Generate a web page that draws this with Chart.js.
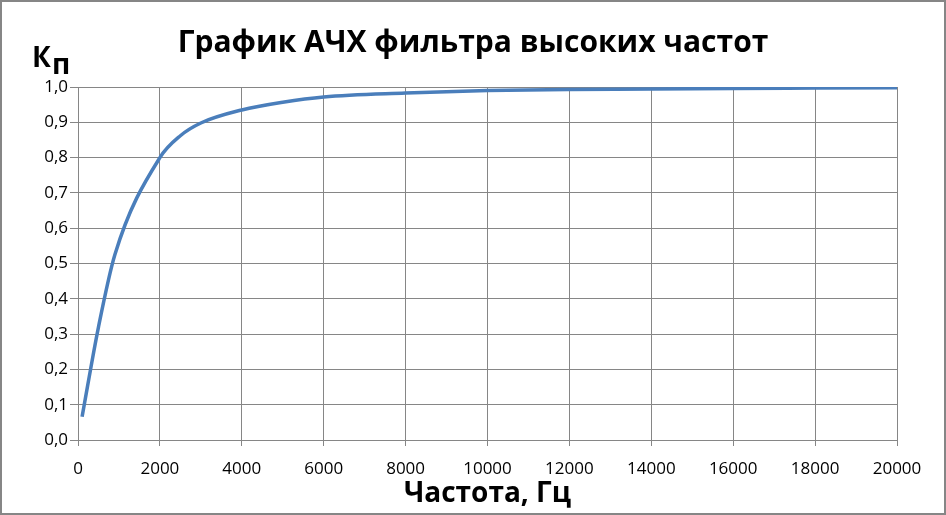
<!DOCTYPE html>
<html>
<head>
<meta charset="utf-8">
<script src="https://cdn.jsdelivr.net/npm/chart.js@4"></script>
<style>
  body { margin: 0; background: #fff; }
  #wrap { width: 946px; height: 515px; }
</style>
</head>
<body>
<div id="wrap"><canvas id="afc" width="946" height="515"></canvas></div>
<script>
// частоты, Гц и коэффициент передачи
const freqs = [100, 500, 900, 2000, 2500, 3000, 4000, 5000, 6000, 8000, 10000, 12000, 14000, 16000, 18000, 20000];
const gain = [0.066, 0.32, 0.525, 0.80, 0.862, 0.898, 0.935, 0.957, 0.972, 0.983, 0.990, 0.993, 0.994, 0.996, 0.997, 0.998];

const chartTitle = 'График АЧХ фильтра высоких частот';
const xTitle = 'Частота, Гц';
const yTitleMain = 'К';
const yTitleSub = 'п';

const gridColor = '#868686';
const lineColor = '#4a7ebb';

const points = freqs.map((f, i) => ({x: f, y: gain[i]}));

// рамка, заголовок и подпись оси Y (Кп) над осью
const extras = {
  id: 'extras',
  afterDraw(chart) {
    const ctx = chart.ctx;
    ctx.save();
    ctx.strokeStyle = gridColor;
    ctx.lineWidth = 2;
    ctx.strokeRect(1, 1, chart.width - 2, chart.height - 2);

    ctx.fillStyle = '#000';
    ctx.textBaseline = 'alphabetic';
    ctx.font = 'bold 30px "Open Sans"';
    ctx.textAlign = 'center';
    ctx.fillText(chartTitle, 473, 52);

    ctx.font = 'bold 28px "Open Sans"';
    ctx.textAlign = 'left';
    ctx.fillText(yTitleMain, 32, 67);
    ctx.fillText(yTitleSub, 52, 74);
    ctx.restore();
  }
};

const afc = new Chart(document.getElementById('afc'), {
  type: 'line',
  data: {
    datasets: [{
      data: points,
      borderColor: lineColor,
      borderWidth: 3.5,
      pointRadius: 0,
      fill: false,
      cubicInterpolationMode: 'monotone'
    }]
  },
  options: {
    responsive: false,
    animation: false,
    devicePixelRatio: 1,
    layout: {padding: {top: 87, left: 0, right: 49, bottom: 0}},
    plugins: {
      legend: {display: false},
      tooltip: {enabled: false}
    },
    scales: {
      x: {
        type: 'linear',
        min: 0,
        max: 20000,
        afterFit: (scale) => { scale.height = 75; },
        ticks: {
          stepSize: 2000,
          color: '#000',
          padding: 13,
          maxRotation: 0,
          font: {family: 'Open Sans', size: 17},
          callback: (v) => String(v)
        },
        grid: {color: gridColor, tickLength: 6},
        border: {color: gridColor},
        title: {
          display: true,
          text: xTitle,
          color: '#000',
          font: {family: 'Open Sans', size: 28, weight: 'bold', lineHeight: 1.2},
          padding: {top: 0, bottom: 4}
        }
      },
      y: {
        min: 0,
        max: 1,
        afterFit: (scale) => { scale.width = 78; },
        ticks: {
          stepSize: 0.1,
          color: '#000',
          padding: 2,
          font: {family: 'Open Sans', size: 17},
          callback: (v) => v.toFixed(1).replace('.', ',')
        },
        grid: {color: gridColor, tickLength: 8},
        border: {color: gridColor}
      }
    }
  },
  plugins: [extras]
});
</script>
</body>
</html>
